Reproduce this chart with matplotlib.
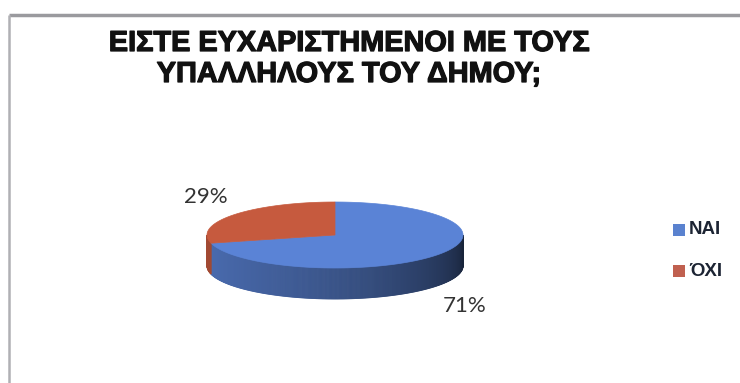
import numpy as np
import matplotlib.pyplot as plt
from matplotlib import font_manager
from matplotlib import patheffects
from matplotlib.patches import Polygon, Rectangle
from matplotlib.colors import to_rgb

labels = ['ΝΑΙ', 'ΌΧΙ']
shares = [71, 29]
pct_labels = ['71%', '29%']
top_colors = ['#5a83d6', '#c65a3e']
title_lines = ['ΕΙΣΤΕ ΕΥΧΑΡΙΣΤΗΜΕΝΟΙ ΜΕ ΤΟΥΣ', 'ΥΠΑΛΛΗΛΟΥΣ ΤΟΥ ΔΗΜΟΥ;']

bold_path = font_manager.findfont(font_manager.FontProperties(family='Liberation Sans',
                                                              weight='bold'))
title_fp = font_manager.FontProperties(fname=bold_path, size=20.8)
legend_fp = font_manager.FontProperties(fname=bold_path, size=13.5)
thick = [patheffects.withStroke(linewidth=0.9, foreground='#111111')]

fig = plt.figure(figsize=(7.4, 3.83), dpi=100)
ax = fig.add_axes([0, 0, 1, 1])
ax.set_xlim(0, 740)
ax.set_ylim(383, 0)
ax.axis('off')

# frame of the chart area
ax.plot([9, 740], [15, 15], color='#9a9a9e', lw=2.5, solid_capstyle='butt')
ax.plot([9, 9], [15, 383], color='#b0b0b4', lw=1.8, solid_capstyle='butt')

for i, line in enumerate(title_lines):
    ax.text(349, 43 + 31 * i, line, ha='center', va='center',
            fontproperties=title_fp, color='#111111', path_effects=thick)

# tilted pie geometry (pixel units)
cx, cy, rx, ry, depth = 335, 235, 128, 33, 31


def pt(t):
    r = np.radians(t)
    return cx + rx * np.cos(r), cy - ry * np.sin(r)


def shade(c, f):
    return tuple(np.clip(np.array(to_rgb(c)) * f, 0, 1))


# first slice starts at 12 o'clock and runs clockwise
spans = []
start = 90.0
for v in shares:
    sweep = 360.0 * v / sum(shares)
    spans.append((start - sweep, start))
    start -= sweep

# side walls, only the front half (180..360) is visible
for (a0, a1), col in zip(spans, top_colors):
    for off in (0, 360, -360):
        lo, hi = max(a0 + off, 180), min(a1 + off, 360)
        if hi <= lo:
            continue
        ts = np.linspace(lo, hi, int((hi - lo) * 2) + 2)
        for t0, t1 in zip(ts[:-1], ts[1:]):
            u = (0.5 * (t0 + t1) - 180) / 180
            f = 0.82 - 0.55 * u ** 1.6
            x0, y0 = pt(t0)
            x1, y1 = pt(t1)
            c = shade(col, f)
            ax.add_patch(Polygon([(x0, y0), (x1, y1), (x1, y1 + depth), (x0, y0 + depth)],
                                 closed=True, fc=c, ec=c, lw=0.6))

# top face wedges
for (a0, a1), col in zip(spans, top_colors):
    ts = np.linspace(a0, a1, 200)
    verts = [(cx, cy)] + [pt(t) for t in ts]
    ax.add_patch(Polygon(verts, closed=True, fc=col, ec=col, lw=0.5))

# percentage labels
ax.text(465, 306, pct_labels[0], ha='center', va='center', fontsize=16,
        family='Lato', color='#333333')
ax.text(206, 197, pct_labels[1], ha='center', va='center', fontsize=16,
        family='Lato', color='#333333')

# legend
leg_colors = ['#5a82cf', '#c0604f']
for i, (lab, col) in enumerate(zip(labels, leg_colors)):
    y = 230 + 41 * i
    ax.add_patch(Rectangle((673, y - 6), 12, 12, fc=col, ec='none'))
    ax.text(689, y, lab, ha='left', va='center', fontproperties=legend_fp,
            color='#1c2433')

fig.savefig('out.png', dpi=100)
